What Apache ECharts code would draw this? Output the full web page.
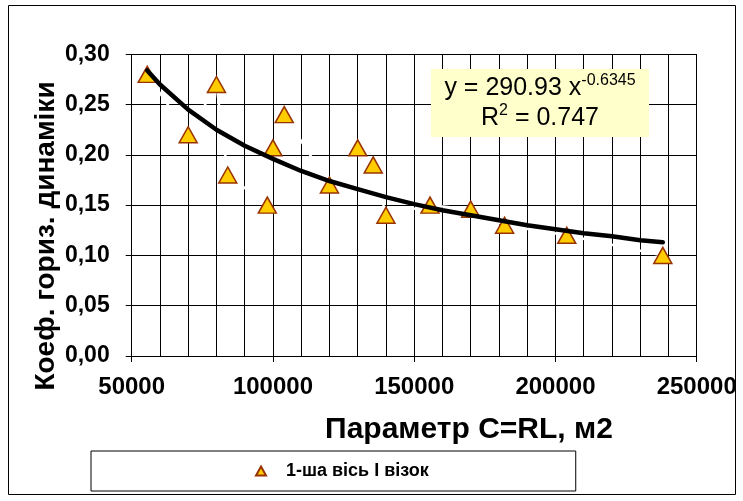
<!DOCTYPE html>
<html>
<head>
<meta charset="utf-8">
<script src="https://cdn.jsdelivr.net/npm/echarts@6/dist/echarts.min.js"></script>
<style>
html,body{margin:0;padding:0;background:#fff;}
#c{width:743px;height:501px;}
</style>
</head>
<body>
<div id="c"></div>
<script>
// ---- data ----
var seriesName = '1-ша вісь I візок';
var xValues = [55500, 70000, 80000, 84000, 98000, 100000, 104000, 120000, 130000, 135500, 140000, 155600, 170000, 182000, 204000, 238000];
var yValues = [0.28, 0.22, 0.27, 0.18, 0.15, 0.207, 0.24, 0.17, 0.207, 0.19, 0.14, 0.15, 0.146, 0.13, 0.12, 0.10];
// power trend line
var trendX = [55500, 60000, 70000, 80000, 90000, 100000, 110000, 120000, 130000, 140000, 150000, 160000, 170000, 180000, 190000, 200000, 210000, 220000, 230000, 238000];
var trendY = [0.284, 0.270, 0.245, 0.225, 0.209, 0.196, 0.184, 0.174, 0.166, 0.158, 0.151, 0.145, 0.140, 0.135, 0.130, 0.126, 0.122, 0.119, 0.115, 0.113];
var xTickLabels = ['50000', '100000', '150000', '200000', '250000'];
var yTickLabels = ['0,00', '0,05', '0,10', '0,15', '0,20', '0,25', '0,30'];
var xAxisTitle = 'Параметр C=RL, м2';
var yAxisTitle = 'Коеф. гориз. динаміки';
var eqLine1 = 'y = 290.93 x';
var eqExp = '-0.6345';
var eqLine2a = 'R';
var eqLine2b = '2';
var eqLine2c = ' = 0.747';

var FONT = '"Liberation Sans", Arial, sans-serif';

var pts = xValues.map(function (x, i) { return [x, yValues[i]]; });
var sortedPts = pts.slice().sort(function (a, b) { return a[0] - b[0]; });
var trendPts = trendX.map(function (x, i) { return [x, trendY[i]]; });

var chart = echarts.init(document.getElementById('c'));
chart.setOption({
  backgroundColor: '#fff',
  animation: false,
  grid: { left: 131.7, right: 46.3, top: 54.3, bottom: 145, containLabel: false },
  xAxis: [{
    type: 'value', min: 50000, max: 250000, interval: 50000, position: 'bottom',
    axisLine: { show: true, lineStyle: { color: '#000', width: 1 } },
    axisTick: { show: true, length: 6, lineStyle: { color: '#000' } },
    axisLabel: {
      margin: 19, color: '#000', fontFamily: FONT, fontWeight: 'bold', fontSize: 24,
      formatter: function (v) { var i = Math.round((v - 50000) / 50000); return xTickLabels[i] || ''; }
    },
    splitLine: { show: true, lineStyle: { color: '#000', width: 1 } }
  }, {
    type: 'value', min: 50000, max: 250000, interval: 10000, position: 'top',
    axisLine: { show: false }, axisTick: { show: false }, axisLabel: { show: false },
    splitLine: { show: true, lineStyle: { color: '#000', width: 1 } }
  }],
  yAxis: {
    type: 'value', min: 0, max: 0.3, interval: 0.05,
    axisLine: { show: true, lineStyle: { color: '#000', width: 1 } },
    axisTick: { show: true, length: 6, lineStyle: { color: '#000' } },
    axisLabel: {
      margin: 22, color: '#000', fontFamily: FONT, fontWeight: 'bold', fontSize: 23,
      formatter: function (v) { var i = Math.round(v / 0.05); return yTickLabels[i] || ''; }
    },
    splitLine: { show: true, lineStyle: { color: '#000', width: 1 } }
  },
  legend: {
    data: [{ name: seriesName, icon: 'triangle' }],
    left: 91, top: 451,
    padding: [11, 147, 11, 164],
    itemWidth: 10, itemHeight: 9,
    borderColor: '#000', borderWidth: 1,
    backgroundColor: '#fff',
    textStyle: { color: '#000', fontFamily: FONT, fontWeight: 'bold', fontSize: 18, padding: [0, 0, 0, 15] }
  },
  series: [
    {
      name: 'link', type: 'line', data: sortedPts, symbol: 'none', silent: true, xAxisIndex: 0,
      lineStyle: { color: '#fff', width: 2.5 }, z: 2
    },
    {
      name: seriesName, type: 'scatter', data: pts, symbol: 'triangle', symbolSize: [18, 16], xAxisIndex: 0,
      itemStyle: { color: '#FFCC00', borderColor: '#993300', borderWidth: 1.5, opacity: 1 }, z: 3
    },
    {
      name: 'trend', type: 'line', data: trendPts, symbol: 'none', smooth: false, silent: true, xAxisIndex: 0,
      lineStyle: { color: '#000', width: 4.5, cap: 'round', join: 'round' }, z: 4
    }
  ],
  graphic: [
    { type: 'rect', shape: { x: 8.5, y: 5.5, width: 727, height: 489 }, style: { fill: null, stroke: '#000', lineWidth: 1 }, z: -10, silent: true },
    { type: 'rect', shape: { x: 431, y: 69, width: 218, height: 68 }, style: { fill: '#FFFFCC' }, z: 50, silent: true },
    {
      type: 'text', x: 540, y: 87, z: 51, silent: true,
      style: {
        text: '{a|' + eqLine1 + '}{s|' + eqExp + '}',
        align: 'center', verticalAlign: 'middle',
        rich: {
          a: { fontFamily: FONT, fontSize: 25, lineHeight: 28, fill: '#000', verticalAlign: 'bottom' },
          s: { fontFamily: FONT, fontSize: 16, lineHeight: 16, fill: '#000', verticalAlign: 'top' }
        }
      }
    },
    {
      type: 'text', x: 540, y: 117, z: 51, silent: true,
      style: {
        text: '{a|' + eqLine2a + '}{s|' + eqLine2b + '}{a|' + eqLine2c + '}',
        align: 'center', verticalAlign: 'middle',
        rich: {
          a: { fontFamily: FONT, fontSize: 25, lineHeight: 28, fill: '#000', verticalAlign: 'bottom' },
          s: { fontFamily: FONT, fontSize: 16, lineHeight: 16, fill: '#000', verticalAlign: 'top' }
        }
      }
    },
    {
      type: 'text', x: 469, y: 430, silent: true,
      style: { text: xAxisTitle, fontFamily: FONT, fontWeight: 'bold', fontSize: 30, fill: '#000', align: 'center', verticalAlign: 'middle' }
    },
    {
      type: 'text', x: 46, y: 236, rotation: Math.PI / 2, silent: true,
      style: { text: yAxisTitle, fontFamily: FONT, fontWeight: 'bold', fontSize: 28, fill: '#000', align: 'center', verticalAlign: 'middle' }
    }
  ]
});
</script>
</body>
</html>
